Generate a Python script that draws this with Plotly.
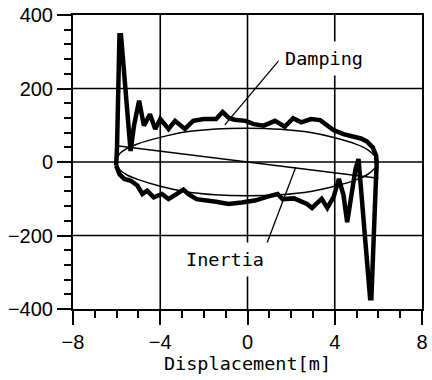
import plotly.graph_objects as go

# Total force loop (thick line)
total_x = [-6.02, -6.02, -5.98, -5.87, -5.80, -5.36, -5.20, -4.97, -4.75, -4.47, -4.23, -4.00,
           -3.62, -3.32, -2.87, -2.49, -2.00, -1.44, -1.14, -0.85, -0.60, -0.09, 0.29, 0.74,
           1.26, 1.71, 2.09, 2.46, 2.91, 3.33, 3.94, 4.40, 4.84, 5.20, 5.47, 5.74, 5.90, 5.92,
           5.88, 5.68, 5.62, 5.09, 4.95, 4.57, 4.40, 4.19, 3.95, 3.66, 3.40, 3.20, 2.96, 2.73,
           2.13, 1.61, 1.38, 1.00, 0.33, -0.27, -0.87, -1.44, -1.89, -2.34, -2.72, -2.94,
           -3.24, -3.62, -3.92, -4.30, -4.60, -4.82, -5.05, -5.35, -5.65, -5.87, -6.02]
total_y = [-10, 10, 44, 345, 345, 30, 100, 167, 99, 130, 90, 117,
           90, 112, 90, 112, 117, 117, 136, 120, 115, 112, 103, 99,
           112, 96, 119, 108, 117, 114, 87, 76, 70, 64, 56, 40, 17, -10,
           -60, -371, -371, 8, -20, -164, -90, -46, -95, -125, -100, -112, -125, -114,
           -99, -101, -87, -93, -105, -110, -114, -108, -105, -101, -87, -75,
           -87, -101, -87, -96, -78, -87, -64, -51, -46, -33, -10]

# Damping force (thin ellipse)
damping_x = [-6.0, -5.87, -5.5, -5.05, -4.0, -2.94, -1.44, 0.0, 1.5, 2.9, 4.0, 5.0, 5.5, 5.85, 6.0,
             5.85, 5.5, 5.0, 4.0, 2.9, 1.5, 0.0, -1.5, -2.9, -4.0, -5.0, -5.5, -5.87, -6.0]
damping_y = [0, 22, 38, 49, 67, 81, 90, 92, 89, 80, 66, 48, 34, 16, 0,
             -16, -34, -48, -66, -80, -89, -92, -89, -80, -66, -48, -36, -20, 0]

# Inertia force (thin straight line)
inertia_x = [-6.0, 6.0]
inertia_y = [44, -44]

x_ticks = [-8, -4, 0, 4, 8]
y_ticks = [-400, -200, 0, 200, 400]
x_minor_step = 1
y_minor_step = 40

fig = go.Figure()
fig.add_trace(go.Scatter(x=damping_x, y=damping_y, mode="lines",
                         line=dict(color="black", width=1.5, shape="spline", smoothing=0.8),
                         hoverinfo="skip", showlegend=False))
fig.add_trace(go.Scatter(x=inertia_x, y=inertia_y, mode="lines",
                         line=dict(color="black", width=1.5),
                         hoverinfo="skip", showlegend=False))
fig.add_trace(go.Scatter(x=total_x, y=total_y, mode="lines",
                         line=dict(color="black", width=4.5),
                         hoverinfo="skip", showlegend=False))

mono = "DejaVu Sans Mono"

# grid lines at the inner major ticks (drawn below the traces)
for xv in x_ticks[1:-1]:
    fig.add_shape(type="line", xref="x", yref="paper", x0=xv, x1=xv, y0=0, y1=1,
                  layer="below", line=dict(color="black", width=1.6))
for yv in y_ticks[1:-1]:
    fig.add_shape(type="line", xref="paper", yref="y", x0=0, x1=1, y0=yv, y1=yv,
                  layer="below", line=dict(color="black", width=1.6))

# leader lines
fig.add_shape(type="line", xref="x", yref="y", x0=1.55, y0=284, x1=-1.04, y1=101,
              line=dict(color="black", width=1.3))
fig.add_shape(type="line", xref="x", yref="y", x0=0.86, y0=-226, x1=2.21, y1=-14,
              line=dict(color="black", width=1.3))

fig.add_annotation(x=3.52, y=281, xref="x", yref="y", text="Damping", showarrow=False,
                   font=dict(family=mono, size=18.5, color="black"),
                   bgcolor="white", borderpad=6)
fig.add_annotation(x=-1.01, y=-265, xref="x", yref="y", text="Inertia", showarrow=False,
                   font=dict(family=mono, size=18.5, color="black"),
                   bgcolor="white", borderpad=6)

axis_common = dict(showline=True, linecolor="black", linewidth=2, mirror=True,
                   ticks="outside", ticklen=14, tickwidth=2, tickcolor="black",
                   showgrid=False, zeroline=False,
                   tickfont=dict(family="Liberation Sans", size=20, color="black"))

fig.update_xaxes(range=[x_ticks[0], x_ticks[-1]], tickvals=x_ticks,
                 minor=dict(dtick=x_minor_step, ticks="outside", ticklen=7, tickwidth=2,
                            tickcolor="black", showgrid=False),
                 title=dict(text="Displacement[m]", font=dict(family=mono, size=18.5, color="black"), standoff=4),
                 **axis_common)
fig.update_yaxes(range=[y_ticks[0], y_ticks[-1]], tickvals=y_ticks,
                 minor=dict(dtick=y_minor_step, ticks="outside", ticklen=7, tickwidth=2,
                            tickcolor="black", showgrid=False),
                 **axis_common)

fig.update_layout(width=432, height=380, margin=dict(l=73, r=4, t=15, b=71),
                  paper_bgcolor="white", plot_bgcolor="white", showlegend=False)

fig.write_html("out.html")
